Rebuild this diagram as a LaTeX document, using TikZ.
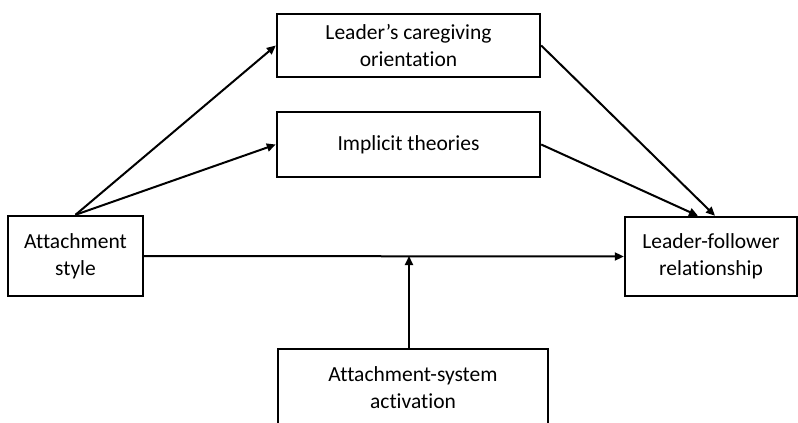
\documentclass[tikz,border=0pt]{standalone}
\usepackage{fontspec}
\setmainfont{Carlito}[Ligatures=NoCommon]
\usetikzlibrary{arrows.meta}
\begin{document}
\begin{tikzpicture}[x=1pt,y=-1pt,
  box/.style={draw=black,line width=2.4pt,fill=white,align=center,inner sep=0pt,font=\fontsize{21.5}{27}\selectfont},
  conn/.style={line width=2pt,-{Triangle[length=9pt,width=8pt]}}]
\useasboundingbox (0,0) rectangle (798,423);
\clip (0,0) rectangle (798,423);
\node[box,minimum width=135pt,minimum height=80pt] (att) at (75.5,256) {Attachment\\style};
\node[box,minimum width=263pt,minimum height=63pt] (care) at (408.5,45.5) {Leader’s caregiving\\orientation};
\node[box,minimum width=263pt,minimum height=65pt] (impl) at (408.5,144.5) {Implicit theories};
\node[box,minimum width=172pt,minimum height=79pt] (lf) at (711,256.5) {Leader-follower\\relationship};
\node[box,minimum width=270pt,minimum height=80pt,anchor=north] (sys) at (413,348) {\raisebox{6pt}{\begin{tabular}{@{}c@{}}Attachment-system\\activation\end{tabular}}};
\coordinate (m) at (409,256);
\coordinate (s) at (409,348);
\draw[conn] (att.north) -- (care.west);
\draw[conn] (att.north) -- (impl.west);
\draw[conn] (care.east) -- ([xshift=4pt]lf.north);
\draw[conn] (impl.east) -- ([xshift=-13pt]lf.north);
\draw[conn] (att.east) -- (lf.west);
\draw[conn] (s) -- (m);
\end{tikzpicture}
\end{document}
